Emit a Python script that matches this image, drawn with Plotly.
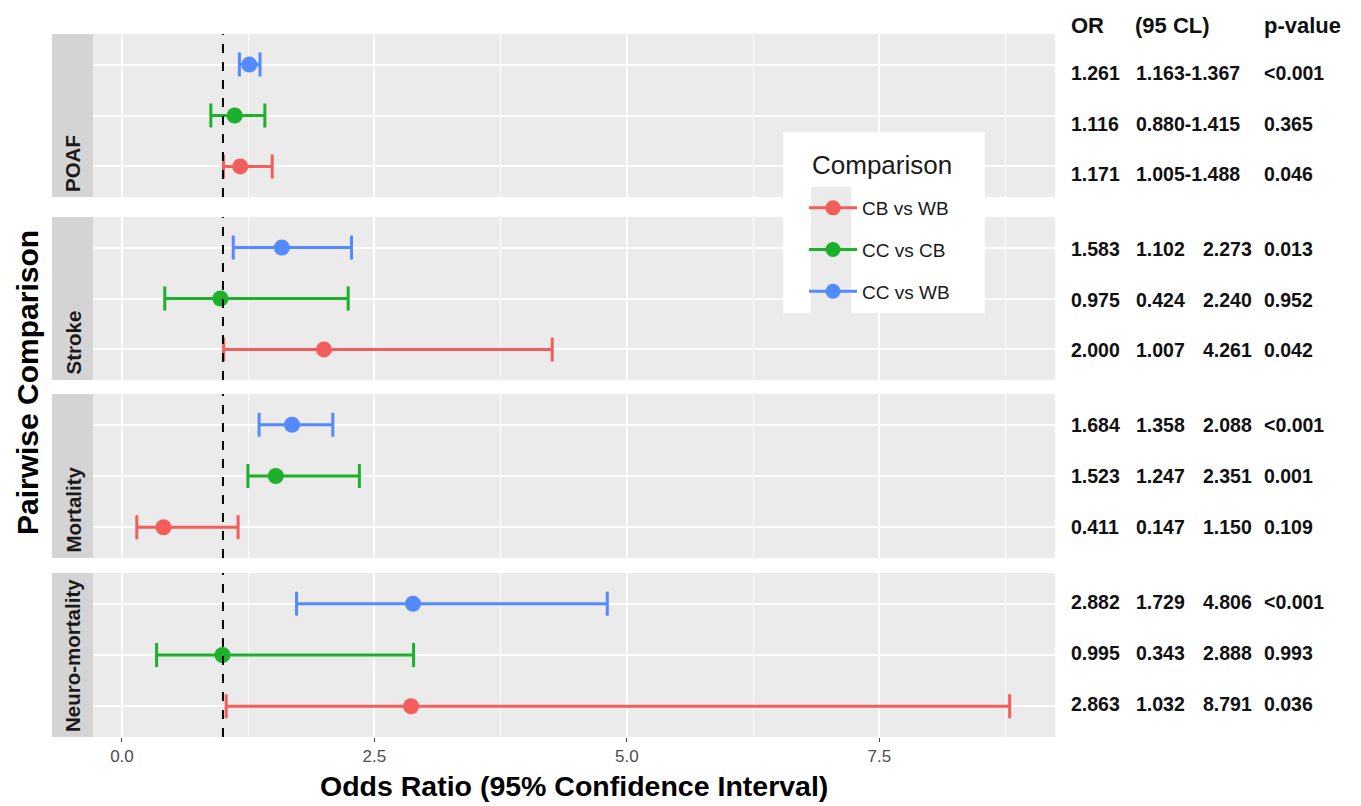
import plotly.graph_objects as go
from plotly.subplots import make_subplots

# ---------------- data ----------------
outcomes = ["POAF", "Stroke", "Mortality", "Neuro-mortality"]
comparisons = ["CB vs WB", "CC vs CB", "CC vs WB"]  # bottom -> top inside each panel

odds_ratio = {
    "POAF":            [1.171, 1.116, 1.261],
    "Stroke":          [2.000, 0.975, 1.583],
    "Mortality":       [0.411, 1.523, 1.684],
    "Neuro-mortality": [2.863, 0.995, 2.882],
}
ci_low = {
    "POAF":            [1.005, 0.880, 1.163],
    "Stroke":          [1.007, 0.424, 1.102],
    "Mortality":       [0.147, 1.247, 1.358],
    "Neuro-mortality": [1.032, 0.343, 1.729],
}
ci_high = {
    "POAF":            [1.488, 1.415, 1.367],
    "Stroke":          [4.261, 2.240, 2.273],
    "Mortality":       [1.150, 2.351, 2.088],
    "Neuro-mortality": [8.791, 2.888, 4.806],
}
p_values = {
    "POAF":            ["0.046", "0.365", "<0.001"],
    "Stroke":          ["0.042", "0.952", "0.013"],
    "Mortality":       ["0.109", "0.001", "<0.001"],
    "Neuro-mortality": ["0.036", "0.993", "<0.001"],
}
table_headers = ["OR", "(95 CL)", "p-value"]
x_ticks = [0, 2.5, 5.0, 7.5]
x_tick_labels = ["0.0", "2.5", "5.0", "7.5"]
x_minor = [1.25, 3.75, 6.25, 8.75]
reference_line = 1.0

colors = {"CB vs WB": "#F35E5A", "CC vs CB": "#1DB02A", "CC vs WB": "#5589FF"}

# ---------------- layout helpers ----------------
W, H = 1361, 806
L, R, T, B = 93, 1055, 34, 737   # plot area in px
pw, ph = R - L, B - T

def py(y):
    return (B - y) / ph

def px(x):
    return (x - L) / pw

panel_px = [(34, 197), (217, 380), (394, 558), (573, 737)]
domains = [[py(b), py(t)] for (t, b) in panel_px]
table_shift = [-8, -1, 0, 2]   # small vertical offsets of the text table rows (px)

fig = make_subplots(rows=4, cols=1, shared_xaxes=True, vertical_spacing=0.02)

FONT = "Liberation Sans, Arial, sans-serif"

for i, oc in enumerate(outcomes):
    r = i + 1
    for j, cmp in enumerate(comparisons):
        o = odds_ratio[oc][j]
        lo = ci_low[oc][j]
        hi = ci_high[oc][j]
        fig.add_trace(go.Scatter(
            x=[o], y=[cmp], mode="markers",
            marker=dict(color=colors[cmp], size=16),
            error_x=dict(type="data", symmetric=False, array=[hi - o], arrayminus=[o - lo],
                         color=colors[cmp], thickness=3, width=12),
            showlegend=False, hoverinfo="x+y",
        ), row=r, col=1)
    # dashed reference line per panel
    fig.add_shape(type="line", x0=reference_line, x1=reference_line, y0=0, y1=1,
                  xref=f"x{'' if r == 1 else r}", yref=f"y{'' if r == 1 else r} domain",
                  line=dict(color="black", width=2, dash="dash"), layer="above")

# legend-only traces
for cmp in comparisons:
    fig.add_trace(go.Scatter(x=[None], y=[None], mode="lines+markers", name=cmp,
                             marker=dict(color=colors[cmp], size=15),
                             line=dict(color=colors[cmp], width=3),
                             legendgroup=cmp), row=1, col=1)

for i in range(4):
    r = i + 1
    ya = "yaxis" if r == 1 else f"yaxis{r}"
    xa = "xaxis" if r == 1 else f"xaxis{r}"
    fig.layout[ya].update(domain=domains[i], type="category", categoryorder="array",
                          categoryarray=comparisons, range=[-0.6, 2.6],
                          showticklabels=False, ticks="", showgrid=True,
                          gridcolor="white", gridwidth=1.8, zeroline=False, showline=False)
    fig.layout[xa].update(range=[-0.287, 9.24], tickvals=x_ticks, ticktext=x_tick_labels,
                          showgrid=True, gridcolor="white", gridwidth=1.8, zeroline=False,
                          showline=False,
                          minor=dict(tickvals=x_minor, showgrid=True, gridcolor="white",
                                     gridwidth=0.9, ticks=""),
                          ticks="outside" if r == 4 else "", ticklen=4, tickcolor="#444",
                          tickwidth=1.2,
                          showticklabels=(r == 4),
                          tickfont=dict(family=FONT, size=17, color="#4D4D4D"))
    # panel background
    fig.add_shape(type="rect", xref=f"x{'' if r == 1 else r} domain",
                  yref=f"y{'' if r == 1 else r} domain",
                  x0=0, x1=1, y0=0, y1=1, fillcolor="#EBEBEB", line=dict(width=0),
                  layer="below")
    # strip
    fig.add_shape(type="rect", xref=f"x{'' if r == 1 else r} domain",
                  yref=f"y{'' if r == 1 else r} domain",
                  x0=-41 / pw, x1=0, y0=0, y1=1, fillcolor="#D4D4D4", line=dict(width=0),
                  layer="below")
    fig.add_annotation(text=outcomes[i], textangle=-90, xref="paper", yref="paper",
                       x=px(72.5), y=domains[i][0] + 3 / ph, xanchor="center", yanchor="bottom",
                       showarrow=False, font=dict(family=FONT, size=20.5, color="#1A1A1A",
                                                  weight="bold"))
    # table on the right
    oc = outcomes[i]
    yref = "y" if r == 1 else f"y{r}"
    tf = dict(family=FONT, size=19.5, color="#111", weight="bold")
    ys = table_shift[i]
    for j, cmp in enumerate(comparisons):
        fig.add_annotation(text=f"{odds_ratio[oc][j]:.3f}", xref="paper", yref=yref,
                           x=px(1069), y=cmp, xanchor="left", yanchor="middle", yshift=ys,
                           showarrow=False, font=tf)
        if oc == "POAF":
            fig.add_annotation(text=f"{ci_low[oc][j]:.3f}-{ci_high[oc][j]:.3f}", xref="paper",
                               yref=yref, x=px(1134), y=cmp, xanchor="left", yanchor="middle",
                               yshift=ys, showarrow=False, font=tf)
        else:
            fig.add_annotation(text=f"{ci_low[oc][j]:.3f}", xref="paper", yref=yref,
                               x=px(1134), y=cmp, xanchor="left", yanchor="middle", yshift=ys,
                               showarrow=False, font=tf)
            fig.add_annotation(text=f"{ci_high[oc][j]:.3f}", xref="paper", yref=yref,
                               x=px(1201), y=cmp, xanchor="left", yanchor="middle", yshift=ys,
                               showarrow=False, font=tf)
        fig.add_annotation(text=p_values[oc][j], xref="paper", yref=yref,
                           x=px(1262), y=cmp, xanchor="left", yanchor="middle", yshift=ys,
                           showarrow=False, font=tf)

# table headers
for hx, ht in zip([1069, 1133, 1262], table_headers):
    fig.add_annotation(text=ht, xref="paper", yref="paper", x=px(hx), y=py(25),
                       xanchor="left", yanchor="middle", showarrow=False,
                       font=dict(family=FONT, size=22, color="#111", weight="bold"))

# axis titles
fig.add_annotation(text="Odds Ratio (95% Confidence Interval)", xref="paper", yref="paper",
                   x=px(574), y=py(786), xanchor="center", yanchor="middle", showarrow=False,
                   font=dict(family=FONT, size=28.5, color="black", weight="bold"))
fig.add_annotation(text="Pairwise Comparison", textangle=-90, xref="paper", yref="paper",
                   x=px(27), y=py(383), xanchor="center", yanchor="middle", showarrow=False,
                   font=dict(family=FONT, size=30, color="black", weight="bold"))

# legend box, key background and legend title
fig.add_shape(type="rect", xref="paper", yref="paper", x0=px(783), x1=px(985),
              y0=py(313), y1=py(132), fillcolor="white", line=dict(width=0), layer="above")
fig.add_shape(type="rect", xref="paper", yref="paper", x0=px(811), x1=px(851),
              y0=py(313), y1=py(187), fillcolor="#EBEBEB", line=dict(width=0), layer="above")
fig.add_annotation(text="Comparison", xref="paper", yref="paper", x=px(810), y=py(165),
                   xanchor="left", yanchor="middle", showarrow=False,
                   font=dict(family=FONT, size=26, color="#1A1A1A"))

fig.update_layout(
    width=W, height=H,
    margin=dict(l=L, r=W - R, t=T, b=H - B),
    paper_bgcolor="white", plot_bgcolor="rgba(0,0,0,0)",
    legend=dict(x=px(804), y=py(189), xanchor="left", yanchor="top",
                bgcolor="rgba(0,0,0,0)", tracegroupgap=14,
                font=dict(family=FONT, size=19, color="#1A1A1A"),
                itemwidth=48),
    font=dict(family=FONT),
)

fig.write_html("out.html", post_script="document.body.style.margin='0';",
               config={"displayModeBar": False})
